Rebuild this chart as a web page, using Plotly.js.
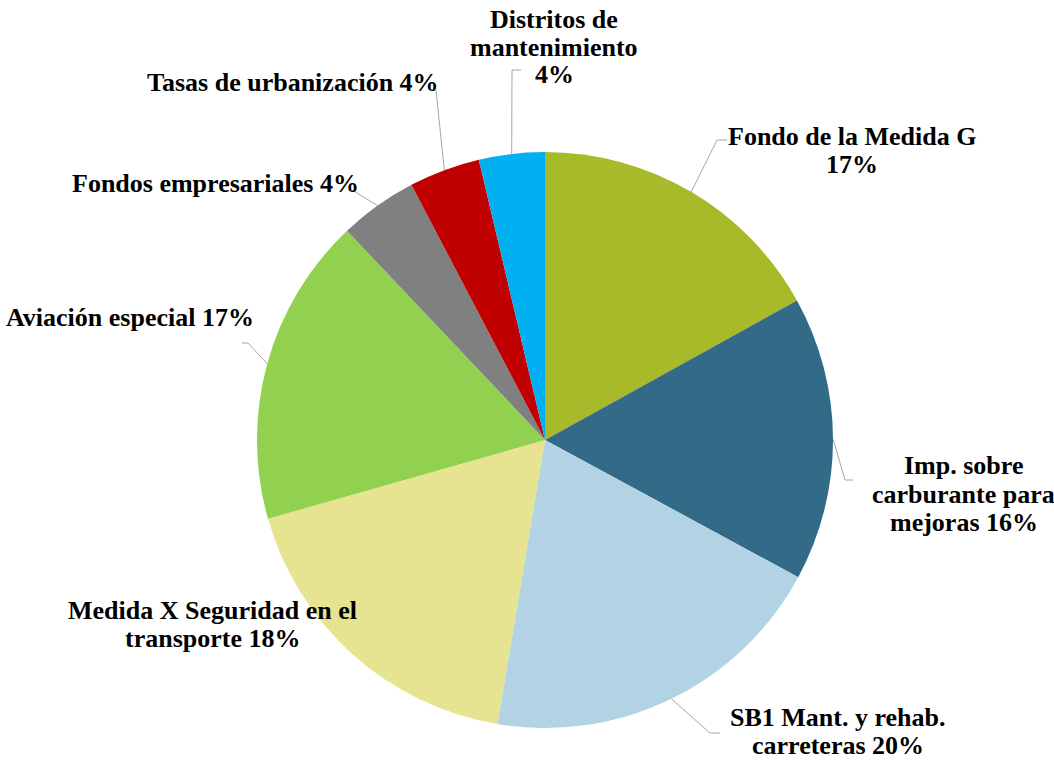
<!DOCTYPE html>
<html><head><meta charset="utf-8">
<script src="https://cdn.plot.ly/plotly-3.0.1.min.js"></script>
<style>body{margin:0;background:#fff}#chart{width:1054px;height:761px}</style>
</head><body><div id="chart"></div>
<script>
const categories = ["Fondo de la Medida G","Imp. sobre carburante para mejoras","SB1 Mant. y rehab. carreteras","Medida X Seguridad en el transporte","Aviación especial","Fondos empresariales","Tasas de urbanización","Distritos de mantenimiento"];
const values = [17, 16, 19.8, 18, 17.4, 4.4, 4, 3.7];
const labelLines = [["Fondo de la Medida G","17%"],["Imp. sobre","carburante para","mejoras 16%"],["SB1 Mant. y rehab.","carreteras 20%"],["Medida X Seguridad en el","transporte 18%"],["Aviación especial 17%"],["Fondos empresariales 4%"],["Tasas de urbanización 4%"],["Distritos de","mantenimiento","4%"]];
const colors = ["#A8B92A","#336A87","#B2D3E3","#E6E391","#92D050","#808080","#C00000","#00B0F0"];

const W=1054,H=761, CX=545, CY=440, R=288, GAP=28;
const px=x=>x/W, py=y=>1-y/H;
// label centres and leader elbows/ends (pixels)
const labelPos = [[852,150],[964,494],[838,731],[212,624],[130,317],[215,183],[293,83],[554,47]];
const leaderPts = [[[717,140],[727,140]],[[845,480],[853,480]],[[710,733],[720,733]],null,[[248,343],[242,343]],[[352,190],[352,190]],[[436,90],[436,90]],[[512,70],[521,70]]];

const total = values.reduce((a,b)=>a+b,0);
let cum=0; const shapes=[];
values.forEach((v,i)=>{
  const mid=(cum+v/2)/total*2*Math.PI; cum+=v;
  if(!leaderPts[i]) return;
  const sx=CX+R*Math.sin(mid), sy=CY-R*Math.cos(mid);
  const [e,f]=leaderPts[i];
  shapes.push({type:'path',xref:'paper',yref:'paper',
    path:`M ${px(sx)} ${py(sy)} L ${px(e[0])} ${py(e[1])} L ${px(f[0])} ${py(f[1])}`,
    line:{color:'#A6A6A6',width:1}});
});
const annotations = [];
labelLines.forEach((lines,i)=>{
  const n=lines.length;
  lines.forEach((t,k)=>{
    annotations.push({text:t,xref:'paper',yref:'paper',
      x:px(labelPos[i][0]),y:py(labelPos[i][1]+(k-(n-1)/2)*GAP),
      xanchor:'center',yanchor:'middle',align:'center',showarrow:false,
      font:{family:'Liberation Serif',weight:'bold',size:26,color:'#000'}});
  });
});

Plotly.newPlot('chart',[{type:'pie',labels:categories,values:values,sort:false,direction:'clockwise',rotation:0,
  marker:{colors:colors,line:{width:0}},textinfo:'none',hoverinfo:'label+percent',
  domain:{x:[px(CX-R),px(CX+R)],y:[py(CY+R),py(CY-R)]}}],
  {width:W,height:H,margin:{l:0,r:0,t:0,b:0},showlegend:false,paper_bgcolor:'#fff',
   shapes:shapes,annotations:annotations},
  {displayModeBar:false,staticPlot:true});
</script></body></html>
